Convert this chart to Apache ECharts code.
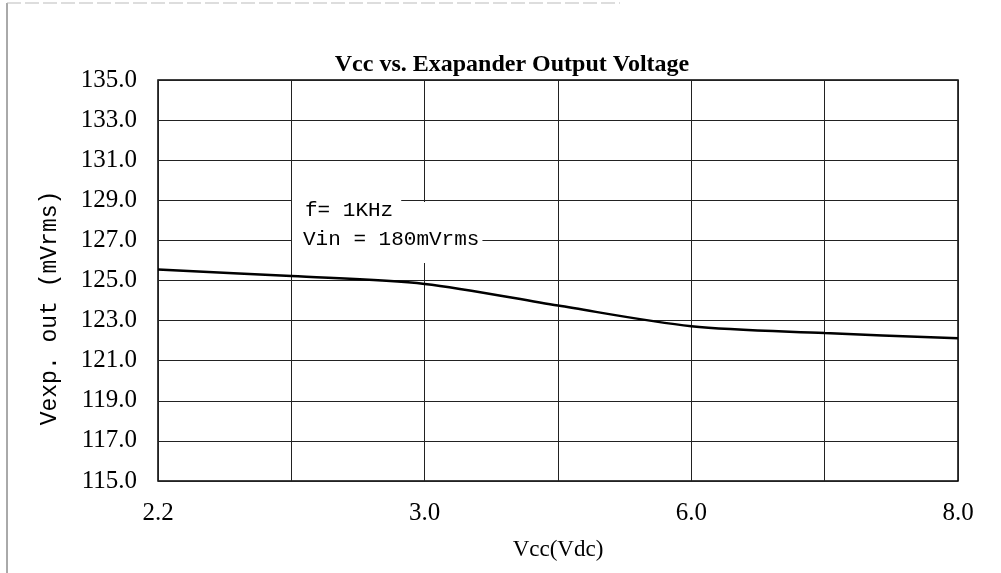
<!DOCTYPE html>
<html>
<head>
<meta charset="utf-8">
<script src="https://cdn.jsdelivr.net/npm/echarts@6/dist/echarts.min.js"></script>
<style>
  html, body { margin: 0; padding: 0; background: #fff; }
  #chart { width: 1001px; height: 573px; }
</style>
</head>
<body>
<div id="chart"></div>
<script>
// x positions (7 grid columns, only every other one labelled)
const xLabels = ['2.2', '', '3.0', '', '6.0', '', '8.0']
// Vexp.out (mVrms)
const vexpOut = [125.55, 125.22, 124.83, 123.75, 122.72, 122.38, 122.12]
const noteLines = ['f= 1KHz', 'Vin = 180mVrms']

const chart = echarts.init(document.getElementById('chart'))

const option = {
  backgroundColor: '#fff',
  animation: false,
  title: {
    text: 'Vcc vs. Exapander Output Voltage',
    left: 507,
    top: 48,
    textAlign: 'center',
    textStyle: {
      fontFamily: 'Liberation Serif',
      fontWeight: 'bold',
      fontSize: 24,
      color: '#000'
    }
  },
  grid: {
    left: 158,
    right: 43,
    top: 80,
    bottom: 92,
    show: true,
    borderColor: '#000',
    borderWidth: 1.5
  },
  xAxis: {
    type: 'value',
    min: 0,
    max: xLabels.length - 1,
    interval: 1,
    name: 'Vcc(Vdc)',
    nameLocation: 'middle',
    nameGap: 57,
    nameTextStyle: {
      fontFamily: 'Liberation Serif',
      fontSize: 23,
      color: '#000'
    },
    axisLine: { show: false },
    axisTick: { show: false },
    axisLabel: {
      margin: 20,
      fontFamily: 'Liberation Serif',
      fontSize: 25,
      color: '#000',
      formatter: v => xLabels[v] || ''
    },
    splitLine: { show: true, lineStyle: { color: '#222', width: 1 } }
  },
  yAxis: {
    type: 'value',
    min: 115,
    max: 135,
    interval: 2,
    axisLine: { show: false },
    axisTick: { show: false },
    axisLabel: {
      margin: 21,
      fontFamily: 'Liberation Serif',
      fontSize: 25,
      color: '#000',
      formatter: v => v.toFixed(1)
    },
    splitLine: { show: true, lineStyle: { color: '#222', width: 1 } }
  },
  graphic: [
    // scan border
    { type: 'line', shape: { x1: 7, y1: 3, x2: 7, y2: 573 }, style: { stroke: '#555', lineWidth: 1 } },
    { type: 'line', shape: { x1: 7, y1: 3, x2: 620, y2: 3 }, style: { stroke: '#bbb', lineWidth: 1, lineDash: [14, 4] } },
    {
      type: 'text',
      x: 50,
      y: 308,
      rotation: Math.PI / 2,
      style: {
        text: 'Vexp. out (mVrms)',
        font: '23px "Liberation Mono"',
        fill: '#000',
        align: 'center',
        verticalAlign: 'middle'
      }
    },
    {
      type: 'text',
      x: 292,
      y: 202,
      z: 100,
      style: {
        text: noteLines[1],
        font: '21px "Liberation Mono"',
        fill: '#000',
        backgroundColor: '#fff',
        padding: [27, 3, 13, 11]
      }
    },
    {
      type: 'text',
      x: 292,
      y: 194,
      z: 101,
      style: {
        text: noteLines[0],
        font: '21px "Liberation Mono"',
        fill: '#000',
        backgroundColor: '#fff',
        padding: [6, 8, 6, 13]
      }
    }
  ],
  series: [
    {
      type: 'line',
      smooth: 0.3,
      symbol: 'none',
      lineStyle: { color: '#000', width: 2.5 },
      data: vexpOut.map((v, i) => [i, v])
    }
  ]
}

chart.setOption(option)
</script>
</body>
</html>
